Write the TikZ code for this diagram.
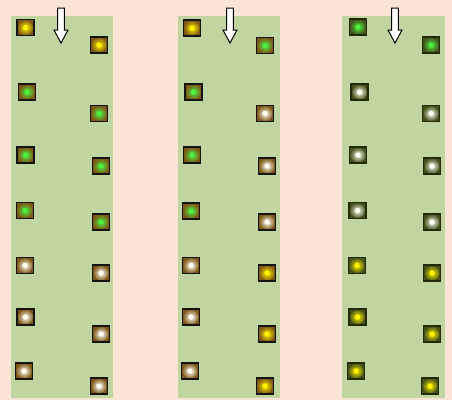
\documentclass[tikz,border=0pt]{standalone}
\definecolor{peach}{HTML}{FAE4D6}
\definecolor{colgreen}{HTML}{C1D5A1}
\definecolor{brownsur}{HTML}{7E5716}
\definecolor{olivesur}{HTML}{43501A}
\definecolor{oliveedge}{HTML}{222A0A}
\definecolor{dotyellow}{HTML}{FFF200}
\definecolor{dotgreen}{HTML}{4CF040}
\definecolor{dotwhite}{HTML}{FFFFF4}
\tikzset{
  lane/.style={fill=colgreen, draw=none},
  sqbase/.style={minimum width=17pt, minimum height=16pt, inner sep=0pt, line width=1.9pt},
  sqa/.style={sqbase, draw=black!92, fill=brownsur,
    path picture={\shade[inner color=#1, outer color=brownsur] (path picture bounding box.center) circle (7.5pt);
                  \fill[#1] (path picture bounding box.center) circle (2.7pt);}},
  sqb/.style={sqbase, draw=oliveedge, fill=olivesur,
    path picture={\shade[inner color=#1, outer color=olivesur] (path picture bounding box.center) circle (7.5pt);
                  \fill[#1] (path picture bounding box.center) circle (2.7pt);}},
  ya/.style={sqa=dotyellow}, ga/.style={sqa=dotgreen}, wa/.style={sqa=dotwhite},
  yb/.style={sqb=dotyellow}, gb/.style={sqb=dotgreen}, wb/.style={sqb=dotwhite},
  downarrow/.style={fill=white, draw=black, line width=1pt, line join=miter}
}
\begin{document}
\begin{tikzpicture}[x=1pt,y=-1pt]
\fill[peach] (0,0) rectangle (452,400);
\useasboundingbox (0,0) rectangle (452,400);
% lanes
\fill[lane] (11,16) rectangle (113,398);
\fill[lane] (178,16) rectangle (280,398);
\fill[lane] (342,16) rectangle (445,398);
% arrows
\foreach \ax in {61,230,395}{
  \draw[downarrow] (\ax-3.3,8) -- (\ax+3.3,8) -- (\ax+3.3,30) -- (\ax+7,30) -- (\ax,43) -- (\ax-7,30) -- (\ax-3.3,30) -- cycle;
}
% column 1
\node[ya] (c1L1) at (25.5,27.5) {};
\node[ga] (c1L2) at (27,92) {};
\node[ga] (c1L3) at (25.5,155) {};
\node[ga] (c1L4) at (25,210.5) {};
\node[wa] (c1L5) at (25,265.5) {};
\node[wa] (c1L6) at (25.5,317) {};
\node[wa] (c1L7) at (24,371) {};
\node[ya] (c1R1) at (99,45) {};
\node[ga] (c1R2) at (99,113.5) {};
\node[ga] (c1R3) at (101,166) {};
\node[ga] (c1R4) at (101,222) {};
\node[wa] (c1R5) at (101,273) {};
\node[wa] (c1R6) at (101,334) {};
\node[wa] (c1R7) at (99,386) {};
% column 2
\node[ya] (c2L1) at (192,28) {};
\node[ga] (c2L2) at (193.5,92) {};
\node[ga] (c2L3) at (192,155) {};
\node[ga] (c2L4) at (191,211) {};
\node[wa] (c2L5) at (191,265.5) {};
\node[wa] (c2L6) at (191,317) {};
\node[wa] (c2L7) at (190,371) {};
\node[ga] (c2R1) at (265,45.5) {};
\node[wa] (c2R2) at (265,113.5) {};
\node[wa] (c2R3) at (267,166) {};
\node[wa] (c2R4) at (267,222) {};
\node[ya] (c2R5) at (267,273) {};
\node[ya] (c2R6) at (267,334) {};
\node[ya] (c2R7) at (265,386) {};
% column 3
\node[gb] (c3L1) at (358,27) {};
\node[wb] (c3L2) at (359.5,92) {};
\node[wb] (c3L3) at (358,155) {};
\node[wb] (c3L4) at (357.5,210.5) {};
\node[yb] (c3L5) at (357,265.5) {};
\node[yb] (c3L6) at (357.5,317) {};
\node[yb] (c3L7) at (356,371) {};
\node[gb] (c3R1) at (431,45) {};
\node[wb] (c3R2) at (431,113.5) {};
\node[wb] (c3R3) at (432,166) {};
\node[wb] (c3R4) at (432,222) {};
\node[yb] (c3R5) at (432,273) {};
\node[yb] (c3R6) at (432,334) {};
\node[yb] (c3R7) at (430,386) {};
\end{tikzpicture}
\end{document}
